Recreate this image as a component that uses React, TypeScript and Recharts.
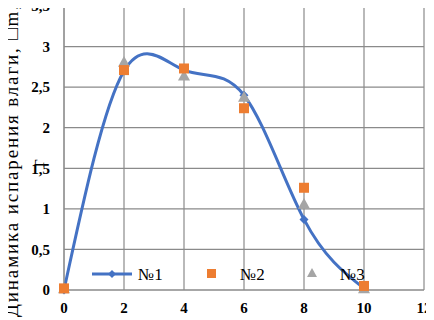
import React from 'react';
import { ComposedChart, Line, XAxis, YAxis, CartesianGrid } from 'recharts';

const xValues = [0, 2, 4, 6, 8, 10];
const series1 = [0, 2.7, 2.71, 2.4, 0.87, 0.02];
const series2 = [0.02, 2.71, 2.73, 2.24, 1.26, 0.05];
const series3 = [0.02, 2.81, 2.64, 2.38, 1.06, 0.02];
const seriesNames = ['№1', '№2', '№3'];
const xTicks = [0, 2, 4, 6, 8, 10, 12];
const yTicks = [0, 0.5, 1, 1.5, 2, 2.5, 3, 3.5];
const yTitle = 'Динамика испарения влаги, □m,';
const yTitle2 = 'г';

const BLUE = '#4472C4';
const ORANGE = '#ED7D31';
const GRAY = '#A5A5A5';
const SERIF = "'Liberation Serif', 'Times New Roman', serif";

const data = xValues.map((x, i) => ({ x, s1: series1[i], s2: series2[i], s3: series3[i] }));

const Diamond = (props: any) => {
  const { cx, cy } = props;
  if (cx == null || cy == null) return null;
  const r = 4.5;
  return <path d={`M${cx},${cy - r}L${cx + r},${cy}L${cx},${cy + r}L${cx - r},${cy}Z`} fill={BLUE} stroke="none" />;
};
const Square = (props: any) => {
  const { cx, cy } = props;
  if (cx == null || cy == null) return null;
  const s = 10;
  return <rect x={cx - s / 2} y={cy - s / 2} width={s} height={s} fill={ORANGE} stroke="none" />;
};
const Triangle = (props: any) => {
  const { cx, cy } = props;
  if (cx == null || cy == null) return null;
  const r = 6;
  return <path d={`M${cx},${cy - r}L${cx + r},${cy + r * 0.8}L${cx - r},${cy + r * 0.8}Z`} fill={GRAY} stroke="none" />;
};

const LegendOverlay = () => (
  <svg width={300} height={24} style={{ position: 'absolute', left: 88, top: 262, display: 'block' }}>
    <line x1={4} y1={12} x2={44} y2={12} stroke={BLUE} strokeWidth={3} />
    <path d="M24,8L28,12L24,16L20,12Z" fill={BLUE} />
    <text x={50} y={18} style={{ fontFamily: SERIF, fontSize: 17 }} fill="#000">{seriesNames[0]}</text>
    <rect x={119} y={7} width={9} height={9} fill={ORANGE} />
    <text x={152} y={18} style={{ fontFamily: SERIF, fontSize: 17 }} fill="#000">{seriesNames[1]}</text>
    <path d="M224,6L229,15L219,15Z" fill={GRAY} />
    <text x={252} y={18} style={{ fontFamily: SERIF, fontSize: 17 }} fill="#000">{seriesNames[2]}</text>
  </svg>
);

const YTitle = () => (
  <g>
    <text
      transform="translate(18,161) rotate(-90)"
      textAnchor="middle"
      style={{ fontFamily: SERIF, fontSize: 19 }}
      textLength={312}
      lengthAdjust="spacing"
      fill="#000"
    >
      {yTitle}
    </text>
    <text
      transform="translate(44,163) rotate(-90)"
      textAnchor="middle"
      style={{ fontFamily: SERIF, fontSize: 19 }}
      fill="#000"
    >
      {yTitle2}
    </text>
  </g>
);

const tickStyle = { fontFamily: SERIF, fontSize: 15, fontWeight: 'bold', fill: '#000' };

export default function App() {
  return (
    <div style={{ position: 'relative', margin: '-8px 0 0 -8px', width: 434, height: 320, fontFamily: SERIF }}>
      <ComposedChart
        width={434}
        height={320}
        data={data}
        margin={{ top: 6, right: 10, bottom: 0, left: 0 }}
        style={{ fontFamily: SERIF }}
      >
        <CartesianGrid stroke="#8a8a8a" strokeWidth={1.2} />
        <XAxis
          type="number"
          dataKey="x"
          domain={[0, 12]}
          ticks={xTicks}
          interval={0}
          height={30}
          axisLine={{ stroke: '#8a8a8a' }}
          tickLine={false}
          tick={tickStyle}
          tickMargin={6}
        />
        <YAxis
          type="number"
          domain={[0, 3.5]}
          ticks={yTicks}
          interval={0}
          width={64}
          axisLine={{ stroke: '#8a8a8a' }}
          tickLine={false}
          tick={tickStyle}
          tickMargin={8}
          tickFormatter={(v: number) => String(v).replace('.', ',')}
          label={{ content: <YTitle /> } as any}
        />
        <Line
          type="natural"
          dataKey="s1"
          name={seriesNames[0]}
          stroke={BLUE}
          strokeWidth={3}
          dot={<Diamond />}
          activeDot={false}
          isAnimationActive={false}
        />
        <Line
          type="linear"
          dataKey="s3"
          name={seriesNames[2]}
          stroke="none"
          dot={<Triangle />}
          activeDot={false}
          isAnimationActive={false}
        />
        <Line
          type="linear"
          dataKey="s2"
          name={seriesNames[1]}
          stroke="none"
          dot={<Square />}
          activeDot={false}
          isAnimationActive={false}
        />
      </ComposedChart>
      <LegendOverlay />
    </div>
  );
}
